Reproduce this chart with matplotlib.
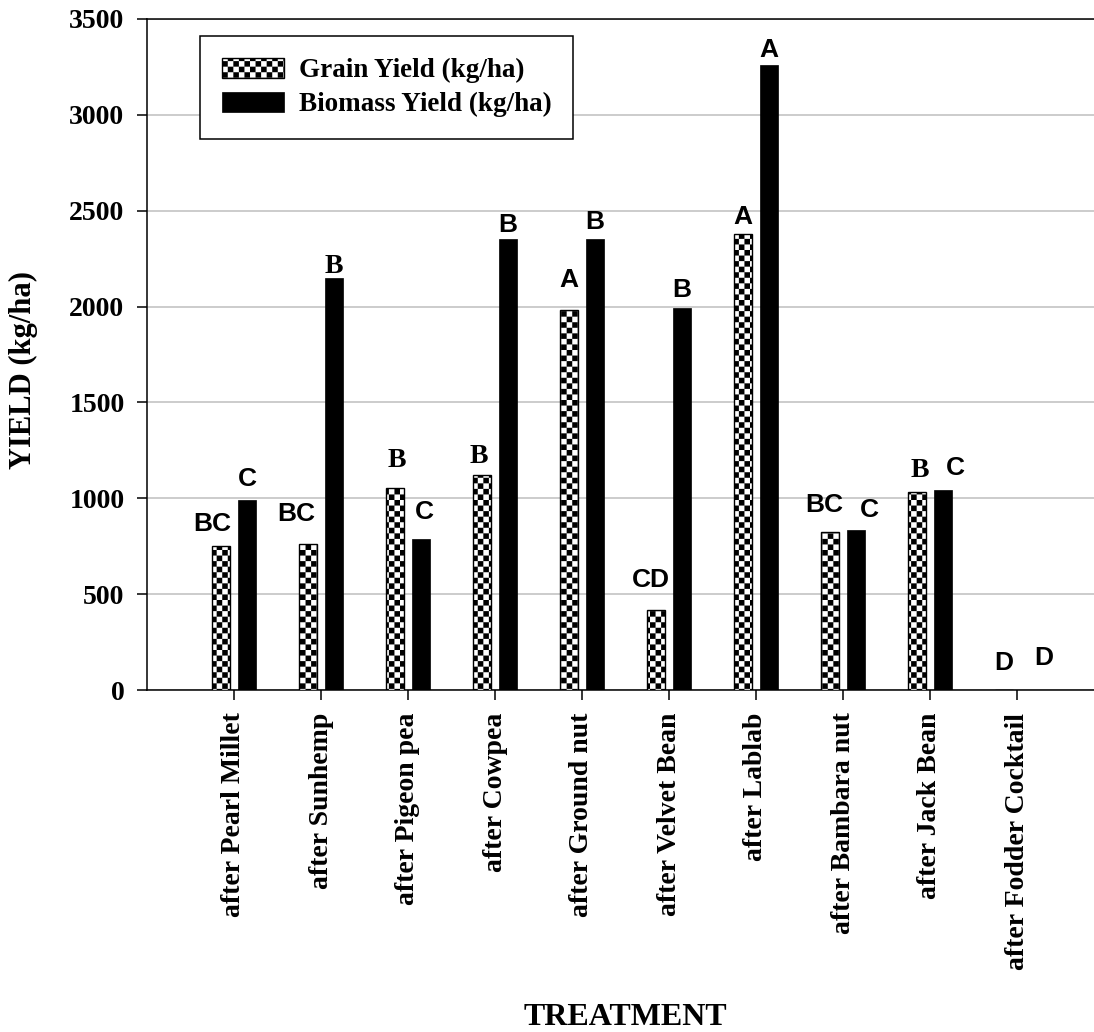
import warnings
import numpy as np
import matplotlib
matplotlib.use("Agg")
import matplotlib.pyplot as plt
from matplotlib import hatch as mhatch
from matplotlib.path import Path

warnings.filterwarnings("ignore")

# treatments and yields (kg/ha)
treatments = ["after Pearl Millet", "after Sunhemp", "after Pigeon pea", "after Cowpea",
              "after Ground nut", "after Velvet Bean", "after Lablab", "after Bambara nut",
              "after Jack Bean", "after Fodder Cocktail"]
grain_yield = [750, 760, 1055, 1120, 1980, 415, 2380, 826, 1035, 0]
biomass_yield = [990, 2150, 790, 2350, 2352, 1990, 3262, 835, 1043, 0]

# significance letters (serif flag = letter typed in Times in the original)
grain_letters = ["BC", "BC", "B", "B", "A", "CD", "A", "BC", "B", "D"]
biomass_letters = ["C", "B", "C", "B", "B", "B", "A", "C", "C", "D"]
grain_serif = [False, False, True, True, False, False, False, False, True, False]
biomass_serif = [False, True, False, False, False, False, False, False, False, False]

# letter nudges in pixels (dx, gap above bar)
grain_dx = [-9, -12, 2, -3, 0, -5, 0, -6, 3, 0]
grain_gap = [15, 23, 21, 12, 23, 23, 10, 20, 15, 20]
biomass_dx = [0, 0, 3, 0, 0, 0, 0, 13, 12, 14]
biomass_gap = [14, 5, 20, 7, 10, 11, 8, 13, 15, 25]


# checkerboard hatch, triggered by 'c' in the hatch string
class CheckerHatch(mhatch.HatchPatternBase):
    def __init__(self, hatch, density):
        self.n = 18 * hatch.count('c')
        self.cells = [(i, j) for i in range(self.n) for j in range(self.n)
                      if (i + j) % 2 == 0]
        self.num_vertices = 5 * len(self.cells) if self.n else 0

    def set_vertices_and_codes(self, vertices, codes):
        s = 1.0 / self.n
        for k, (i, j) in enumerate(self.cells):
            x0, y0 = i * s, j * s
            vertices[5 * k:5 * k + 5] = [[x0, y0], [x0 + s, y0], [x0 + s, y0 + s],
                                         [x0, y0 + s], [x0, y0]]
            codes[5 * k:5 * k + 5] = [Path.MOVETO, Path.LINETO, Path.LINETO,
                                      Path.LINETO, Path.CLOSEPOLY]


mhatch._hatch_types.append(CheckerHatch)

plt.rcParams['font.family'] = 'Liberation Serif'
plt.rcParams['font.weight'] = 'bold'
plt.rcParams['axes.labelweight'] = 'bold'
plt.rcParams['hatch.linewidth'] = 0.01
plt.rcParams['hatch.color'] = 'black'

fig = plt.figure(figsize=(10.94, 10.32), dpi=100)
ax = fig.add_axes([147 / 1094, 342 / 1032, 957 / 1094, 671 / 1032])

x = np.arange(len(treatments))
w = 0.2
off = 0.15
b1 = ax.bar(x - off, grain_yield, w, color='white', edgecolor='black', linewidth=1.0,
            hatch='c', label='Grain Yield (kg/ha)', zorder=3)
b2 = ax.bar(x + off, biomass_yield, w, color='black', edgecolor='black', linewidth=0.5,
            label='Biomass Yield (kg/ha)', zorder=3)

px = 72 / 100.0
for bars, letters, serif, dxs, gaps in [(b1, grain_letters, grain_serif, grain_dx, grain_gap),
                                        (b2, biomass_letters, biomass_serif, biomass_dx, biomass_gap)]:
    for bar, lab, sf, dx, gap in zip(bars, letters, serif, dxs, gaps):
        fam = 'Liberation Serif' if sf else 'Liberation Sans'
        size = 20 if sf else 19
        ax.annotate(lab, (bar.get_x() + bar.get_width() / 2, bar.get_height()),
                    xytext=(dx * px, gap * px), textcoords='offset points',
                    ha='center', va='baseline', fontsize=size, fontweight='bold',
                    family=fam, zorder=4)

ax.set_xlim(-1, 10)
ax.set_ylim(0, 3500)
ax.set_yticks(np.arange(0, 3501, 500))
ax.set_xticks(x)
ax.set_xticklabels(treatments, rotation=90, fontsize=20)
ax.tick_params(axis='y', labelsize=20, direction='out', length=7.2, width=1.1, pad=9)
ax.tick_params(axis='x', direction='out', length=7.2, width=1.1, pad=9)

ax.yaxis.grid(True, color='#c4c4c4', linewidth=1.2)
ax.set_axisbelow(True)
for side in ['left', 'bottom', 'top']:
    ax.spines[side].set_linewidth(1.1)
ax.spines['right'].set_visible(False)

ax.set_ylabel('YIELD (kg/ha)', fontsize=22, fontweight='bold')
ax.yaxis.set_label_coords(-0.114, 0.477)
ax.set_xlabel('TREATMENT', fontsize=23, fontweight='bold')
ax.xaxis.set_label_coords(0.4995, -0.466)

leg = ax.legend(loc='upper left', bbox_to_anchor=(53 / 957, 654 / 671), borderaxespad=0,
                fontsize=19.5, handlelength=2.3, handleheight=0.75, handletextpad=0.55,
                labelspacing=0.33, borderpad=0.8, fancybox=False, framealpha=1)
leg.get_frame().set_edgecolor('black')
leg.get_frame().set_linewidth(1.1)

fig.savefig('out.png', dpi=100)
